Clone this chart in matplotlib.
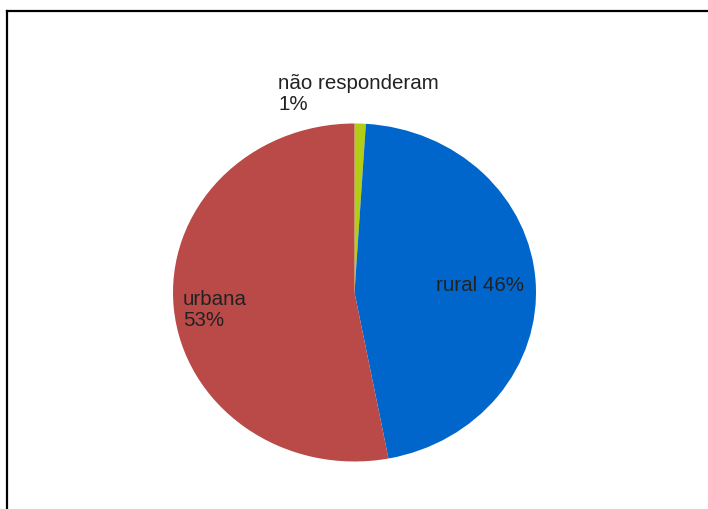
import matplotlib
matplotlib.use("Agg")
import matplotlib.pyplot as plt
from matplotlib.lines import Line2D

# data (clockwise from 12 o'clock)
labels = ["não responderam", "rural", "urbana"]
values = [1, 46, 53]
colors = ["#b3cc16", "#0066cc", "#b94a48"]

plt.rcParams['font.family'] = ['Liberation Sans', 'DejaVu Sans']

W, H = 708, 510
cx, cy = 354.5, 293.5      # pie centre in px (from top-left)
rx, ry = 181.5, 169.0      # the pie is slightly squashed vertically

fig = plt.figure(figsize=(W / 100, H / 100), dpi=100)
ax = fig.add_axes([0, 0, 1, 1])

ax.pie(values, colors=colors, startangle=90, counterclock=False,
       radius=1, wedgeprops=dict(linewidth=0))

# pie() resets the limits, so set them afterwards
ax.set_aspect('auto')
ax.set_xlim(-cx / rx, (W - cx) / rx)
ax.set_ylim(-(H - cy) / ry, cy / ry)
ax.axis('off')

txt = dict(color="#222222", fontsize=14.8, linespacing=1.15)
ax.text(-0.421, 1.30, f"{labels[0]}\n{values[0]}%", ha='left', va='top', **txt)
ax.text(0.449, 0.05, f"{labels[1]} {values[1]}%", ha='left', va='center', **txt)
ax.text(-0.945, -0.098, f"{labels[2]}\n{values[2]}%", ha='left', va='center', **txt)

# frame (only top and left edges are inside the image)
fig.add_artist(Line2D([6.5 / W, 6.5 / W], [0, 1 - 11.5 / H], color='black', lw=1.6,
                      transform=fig.transFigure))
fig.add_artist(Line2D([6.5 / W, 1], [1 - 11.5 / H, 1 - 11.5 / H], color='black', lw=1.6,
                      transform=fig.transFigure))

fig.savefig("out.png", dpi=100)
